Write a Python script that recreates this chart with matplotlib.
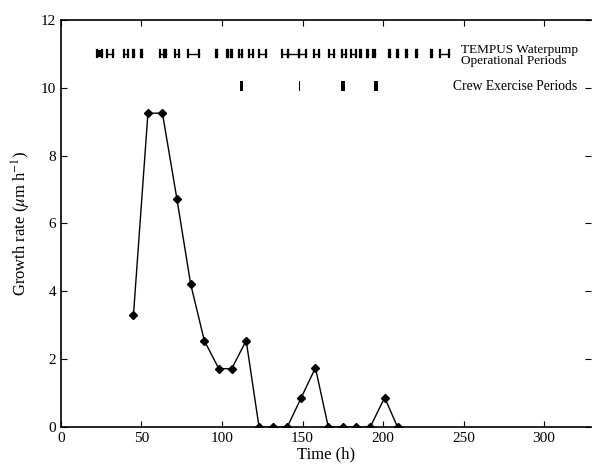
import numpy as np
import matplotlib
matplotlib.use('Agg')
import matplotlib.pyplot as plt

plt.rcParams['font.family'] = ['Liberation Serif', 'DejaVu Serif']
plt.rcParams['mathtext.fontset'] = 'stix'

# Crecimiento medido (h, um/h)
time_h = [45, 54, 63, 72, 80.5, 89, 98, 106, 115, 123, 131.5, 140.5,
          149, 158, 166, 175, 183, 192, 201, 209]
growth = [3.3, 9.25, 9.25, 6.72, 4.22, 2.55, 1.72, 1.72, 2.55, 0, 0, 0,
          0.85, 1.75, 0, 0, 0, 0, 0.87, 0]

# Periodos de la bomba de agua TEMPUS (inicio, fin)
pump_start = [22.5, 28.5, 39.2, 44.6, 49.6, 61.3, 64.3, 70.8, 79, 96,
              103.2, 105.8, 110.6, 116.5, 123, 137.5, 141, 148, 157,
              166.3, 174.3, 180, 185.8, 189.8, 194, 203.4, 208.7, 214.2,
              220.4, 229.7, 235.5]
pump_end = [25.5, 32, 41.6, 45.3, 50.3, 64, 65, 73.5, 86, 96.7,
            103.9, 106.5, 112.6, 119.5, 127.2, 141, 148, 152, 160,
            169.8, 177.2, 183.2, 186.5, 190.5, 194.7, 204.1, 209.4, 214.9,
            221.1, 230.4, 241]

# Periodos de ejercicio de la tripulacion
crew_start = [111.3, 147.6, 173.6, 194.2]
crew_end = [112.8, 148.6, 176.2, 196.8]

fig = plt.figure(figsize=(5.92, 4.73), dpi=100)
ax = fig.add_axes([0.103, 0.097, 0.895, 0.861])

ax.plot(time_h, growth, '-', color='black', lw=1.0, marker='D',
        markersize=3.6, markerfacecolor='black', markeredgecolor='black')

# barras de la bomba
y_pump = 11.0
cap = 0.1
for s, e in zip(pump_start, pump_end):
    ax.plot([s, e], [y_pump, y_pump], color='black', lw=1.0)
    ax.plot([s, s], [y_pump - cap, y_pump + cap], color='black', lw=1.6)
    ax.plot([e, e], [y_pump - cap, y_pump + cap], color='black', lw=1.6)
ax.fill_between([pump_start[0], pump_end[0]], y_pump - cap, y_pump + cap,
                color='black', lw=0)

# barras de ejercicio
y_crew = 10.05
for s, e in zip(crew_start, crew_end):
    ax.fill_between([s, e], y_crew - 0.14, y_crew + 0.14, color='black', lw=0)

ax.text(248.5, 11.12, 'TEMPUS Waterpump', fontsize=9.5, va='center', ha='left')
ax.text(248.5, 10.8, 'Operational Periods', fontsize=9.5, va='center', ha='left')
ax.text(243.5, 10.05, 'Crew Exercise Periods', fontsize=9.8, va='center', ha='left')

ax.set_xlim(0, 329)
ax.set_ylim(0, 12)
ax.set_xticks(np.arange(0, 301, 50))
ax.set_yticks(np.arange(0, 13, 2))
ax.tick_params(direction='in', top=True, right=True, labelsize=11,
               length=4, width=0.8)
ax.spines['right'].set_visible(False)
for sp in ['left', 'bottom', 'top']:
    ax.spines[sp].set_linewidth(1.2)

ax.set_xlabel('Time (h)', fontsize=12, labelpad=1)
ax.set_ylabel(r'Growth rate ($\mu$m h$^{-1}$)', fontsize=12, labelpad=6)

fig.savefig('out.png', dpi=100)
